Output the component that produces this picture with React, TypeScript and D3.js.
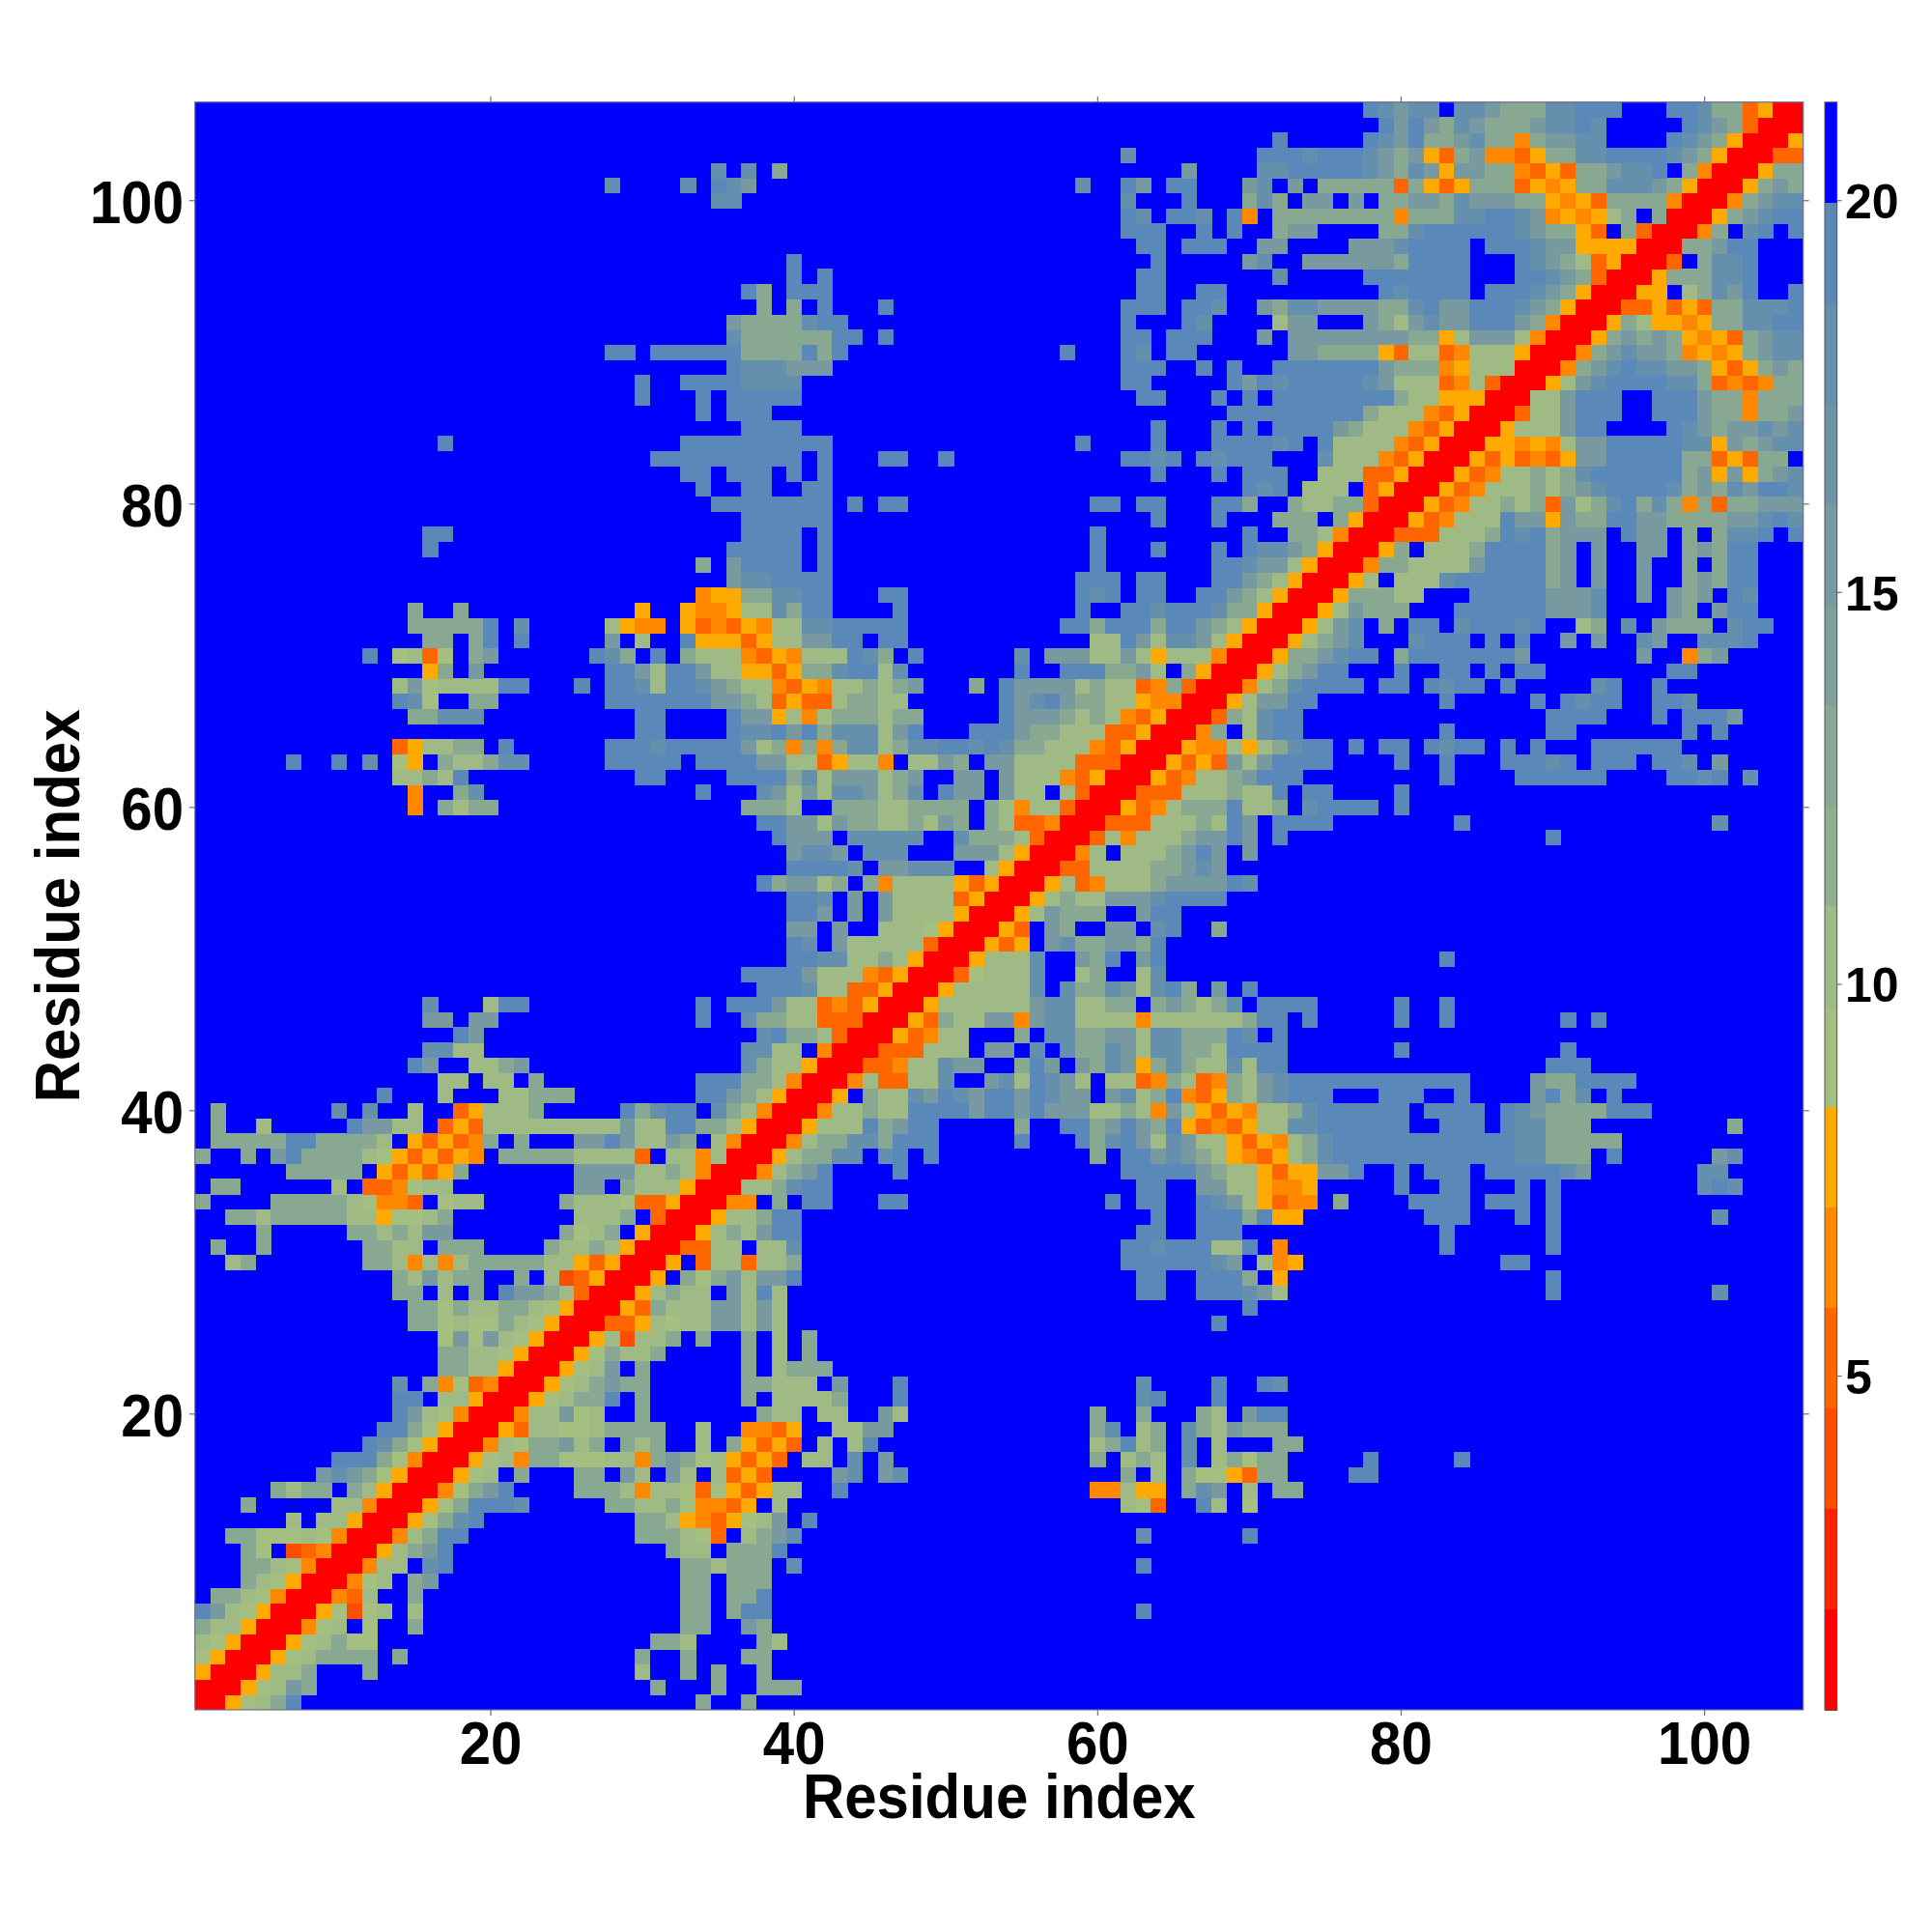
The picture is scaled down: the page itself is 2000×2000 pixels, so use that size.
import React from "react";
import * as d3 from "d3";

// Lower triangle of a symmetric residue-residue distance map, one entry per residue (row 1 first).
// Format: "startColumn:levels", levels are hex readings (0 = closest, f = far / blue).
const contactRows: string[] = [
"1:0","1:00","1:500","1:7500","1:87500","1:a98500","1:db97500","2:aa97400","4:a97500","4:aa97400",
"4:a7f23400","3:aa77787400","7:9f88500","4:a 10:98400","6:a9aafa8500","9:bcba7500","10:ddda7400","12:dca7500","13:dda7500","14:eb97400",
"14:edf98500","14:cfa473400","17:aa98500","17:aa987500","17:7b7b97500","15:aa7877a97500","15:aa7a99aa97500","14:aaf9fafdbba9300","14:a8b9aaffaf823500","3:9a 12:aa84848aaaaa8853500",
"2:a 5:a 12:aa98faaa 24:a88a8500","5:a 11:aa9a9bb 25:a78af500","3:aa8aaaaa885778a 26:888af300","1:a 6:aaaaa87443f799 25:a888733500","2:aa 10:8f334799 26:bbfa888500","7:aaaaaf53535a 26:bbbb88a8400","1:a 4:a 6:bdaaaa87535354faaaaa88883f884900","2:aaaaaddaaaa8f53534afafffbbdb88baf9400","2:a 5:9 11:dbb98f353898999999b88ddaa8500","2:a 10:c 12:c 15:9 18:35888a 29:dacddfca8400",
"13:d 17:8 21:88aaa 34:ddba8500","17:99 20:88fa 34:dddaa8400","15:db 19:88ab 37:ca98500","16:cc99 37:cc99f400","18:db 38:cdaa8300","16:bb 19:bb 34:d 37:caa9933300","16:c 20:9dd 34:d 36:dddb99343500","38:dddc9933500","37:ddddb99943500","40:edcc99a9500",
"40:ecfb99999300","40:bbfbff9987500","40:edbfbfb9998500","40:edcfbfb99993500","38:dabb9afa4999953500","40:edddcfbbcccff9500","40:bccbfcccfffbbb9500","39:dbbbfcccccffcaaa8300","38:ddbb9baa99a8bafa933400","15:4 17:a9aa 37:aaa9ffaaa99aaaafa9499300",
"15:4 18:ac 34:d 38:cb8b9ccb9acfdbbfb99f9300","14:99a9d 30:dd 36:ddddac9bbb9abffbbfb99943500","7:d 10:d 12:c 14:75fa99acc 28:dddddfddddbb9935994f99bafbb999833300","14:3589aafd 28:dddcdddddb9a4a4acc9accddcdcaa99943500","30:dd 36:dccdbdaccc9bdfffdddbaa99933500","15:aaccc 30:dd 36:dbb5949aaa9aafffffdbbba9a943500","14:dc7ffaa 28:dddddddbba935339aa99ffffffdbcdbaa9954400","14:8b79999dd 26:d 28:ddc9ddcba99435499a9abfffafdbbbb9a9934a300","16:5a 19:b 28:ddb9ddb995535aacdd9c 55:dffdddaab9fa500","12:d 14:7937fab 27:dcafd 33:a9994354999dcafd 55:c 57:bbb99b95999400",
"16:aa 19:ad 22:d 28:b 30:9 33:d5553599bbddfdd 60:99db9ccb9500","15:aaaaad 22:c 28:9544 33:53435499ccddddd 58:ddadddaddba9500","15:a 18:a 30:5 33:544599caee 47:d 59:dffddcdddcaa500","34:455aaccdd 46:dd 59:dcdfddffddba9500","36:bccdddd 59:ddd 63:dd 68:ddba9500","34:a 36:bddddfd 60:d 68:ddcbb9500","16:d 36:dddddfd 60:d 64:d 68:dfdccba500","16:dd 37:ddddfd 60:d 70:dffaa9400","37:dddddd 64:d 68:d 72:aaafa500","35:dddddddd 44:d 46:dd 60:dd 63:dd 68:ddaffa99aa300",
"34:d 37:dd 41:dd 70:dcdf999f3500","33:dd 36:dddfdfd 64:d 68:d 70:dddff99933500","31:ddddddddddfd 46:dd 50:d 62:ddcd 67:dcdddfffc99943500","17:d 33:dddddddddd 59:d 64:d 68:ddddcdfd999943500","37:dddd 64:d 68:dfdfddddba99943500","34:d 36:ddd 69:ddddddddda99943500","30:d 34:d 36:ddddd 63:dd 68:dfdfdddddddda9955500","30:d 33:ddddcccc 62:dd 69:dbdcdddddcb999349300","36:dcccbbb 62:ddd 67:d 69:d 72:dddddddbaaa4599900","28:dd 31:ddddddaaaadad 58:d 62:dc 65:dd 73:bbaaaa539934999500",
"36:caaaaaadd 46:d 62:dd 65:ddd 71:b 73:bbbbbbbbaa59bbb9400","36:baaaacdd 62:d 66:dc 72:9bbfffba9bcbbdddba400","38:a 40:a 42:d 46:d 62:ddd 66:ddc 71:baccbbbbaacdbbdddcba500","37:da 40:ddd 63:dd 67:dd 79:dcddddfdddcba500","40:d 42:d 63:dd 72:c 78:dddddddfffddcba300","40:d 64:d 70:bcffbbbbbbaddddfffdcba93500","63:dd 66:ddd 71:bbffffbbbcddddfdddcbb555500","62:ddd 67:d 69:d 72:abbffffaacddddddcbaa53fa300","62:dc 65:ddc 69:d4 72:aaaaaaaa4aaaccddcb45459afa00","35:cc 62:c 66:d 70:acafbbfbfaabbacbbbaa5453aaaa400",
"28:c 33:c 35:dcb 59:c 62:db 65:dd 70:bcfbfaaaaa3a535aaa3545aacccba500","35:c 37:c 39:a 66:b 71:ccdddddcbacb5bbaa4353aabccdfa400","62:c 71:dddcdddcbab53ab4435aaccddddcba500","72:d 78:dcbdaabcaa4abbccffffdcba500","79:dbdbacbaaabccdcfffffdcba300","78:dcbccfccbaaaccdddfffddcaa3500",
];

const bandColors: string[] = [
  "#ff0000", "#ff2200", "#ff4d00", "#ff6600", "#ff8800", "#ffaa00",
  "#a5bf80", "#9fba85", "#90af8c", "#88a892", "#7fa09a", "#78999f", "#6e93a6", "#6490ae", "#5a88b8", "#0000ff",
];
// Which colour band each hex reading in contactRows stands for.
const readingBand: number[] = [0, 1, 2, 3, 4, 5, 6, 6, 7, 7, 9, 11, 13, 14, 14, 15];

const axisTicks: number[] = [20, 40, 60, 80, 100];
const colorbarTicks: number[] = [5, 10, 15, 20];
const bandCount = bandColors.length;
const residueCount = contactRows.length;
const axisTitle = "Residue index";

const BLUE_LEVEL = 15;

function parseRow(row: string): [number, number][] {
  const cells: [number, number][] = [];
  row.split(" ").forEach((seg) => {
    const [start, levels] = seg.split(":");
    Array.from(levels).forEach((c, i) => cells.push([+start + i, readingBand[parseInt(c, 16)]]));
  });
  return cells;
}

const FONT = "'Liberation Sans', Arial, sans-serif";

export default function App() {
  const left = 201.8, right = 1866.7, top = 105.7, bottom = 1770;
  const x = d3.scaleLinear().domain([0.5, residueCount + 0.5]).range([left, right]);
  const y = d3.scaleLinear().domain([0.5, residueCount + 0.5]).range([bottom, top]);
  const cw = (right - left) / residueCount;
  const ch = (bottom - top) / residueCount;

  const cells: { i: number; j: number; level: number }[] = [];
  contactRows.forEach((row, r) => {
    parseRow(row).forEach(([col, level]) => {
      if (level === BLUE_LEVEL) return;
      cells.push({ i: col, j: r + 1, level });
      if (col !== r + 1) cells.push({ i: r + 1, j: col, level });
    });
  });

  const cbLeft = 1889, cbRight = 1901.7;
  const cbValue = d3.scaleLinear().domain([5, 20]).range([1424.5, 207.7]);
  const cbBand = d3.scaleLinear().domain([0, bandCount]).range([bottom, top]);

  const tickColor = "#707070";
  return (
    <svg
      width={2000}
      height={2000}
      viewBox="0 0 2000 2000"
      style={{ position: "absolute", left: 0, top: 0, background: "#fff" }}
    >
      <rect x={left} y={top} width={right - left} height={bottom - top} fill={bandColors[BLUE_LEVEL]} />
      <g shapeRendering="crispEdges">
        {cells.map((c) => (
          <rect
            key={`${c.i}-${c.j}`}
            x={x(c.i - 0.5)}
            y={y(c.j + 0.5)}
            width={cw + 0.4}
            height={ch + 0.4}
            fill={bandColors[c.level]}
          />
        ))}
      </g>
      <rect x={left} y={top} width={right - left} height={bottom - top} fill="none" stroke="#6f6f8f" strokeWidth={1.2} />
      {axisTicks.map((t) => (
        <g key={t} stroke={tickColor} strokeWidth={1.2}>
          <line x1={x(t)} x2={x(t)} y1={bottom} y2={bottom + 6} />
          <line x1={x(t)} x2={x(t)} y1={top} y2={top - 6} />
          <line x1={left} x2={left - 6} y1={y(t)} y2={y(t)} />
          <line x1={right} x2={right + 6} y1={y(t)} y2={y(t)} />
        </g>
      ))}
      {axisTicks.map((t) => (
        <text
          key={t}
          transform={`translate(${x(t)},1826) scale(0.97,1.05)`}
          textAnchor="middle"
          fontFamily={FONT}
          fontWeight={700}
          fontSize={60}
          fill="#000"
        >
          {t}
        </text>
      ))}
      {axisTicks.map((t) => (
        <text
          key={t}
          transform={`translate(190,${y(t) + 23.5}) scale(0.97,1.05)`}
          textAnchor="end"
          fontFamily={FONT}
          fontWeight={700}
          fontSize={60}
          fill="#000"
        >
          {t}
        </text>
      ))}
      <text
        transform={`translate(${(left + right) / 2},1882) scale(1,1.08)`}
        textAnchor="middle"
        fontFamily={FONT}
        fontWeight={700}
        fontSize={60}
        fill="#000"
      >
        {axisTitle}
      </text>
      <text
        transform={`translate(82,${(top + bottom) / 2}) rotate(-90) scale(1,1.08)`}
        textAnchor="middle"
        fontFamily={FONT}
        fontWeight={700}
        fontSize={60}
        fill="#000"
      >
        {axisTitle}
      </text>
      <g shapeRendering="crispEdges">
        {bandColors.map((col, i) => (
          <rect
            key={i}
            x={cbLeft}
            y={cbBand(i + 1)}
            width={cbRight - cbLeft}
            height={cbBand(i) - cbBand(i + 1) + 0.5}
            fill={col}
          />
        ))}
      </g>
      <rect x={cbLeft} y={top} width={cbRight - cbLeft} height={bottom - top} fill="none" stroke="#555" strokeWidth={1} />
      {colorbarTicks.map((t) => (
        <g key={t}>
          <line x1={cbRight} x2={cbRight + 5} y1={cbValue(t)} y2={cbValue(t)} stroke={tickColor} strokeWidth={1.2} />
          <text x={1910} y={cbValue(t) + 18.5} fontFamily={FONT} fontWeight={700} fontSize={50} fill="#000">
            {t}
          </text>
        </g>
      ))}
    </svg>
  );
}
